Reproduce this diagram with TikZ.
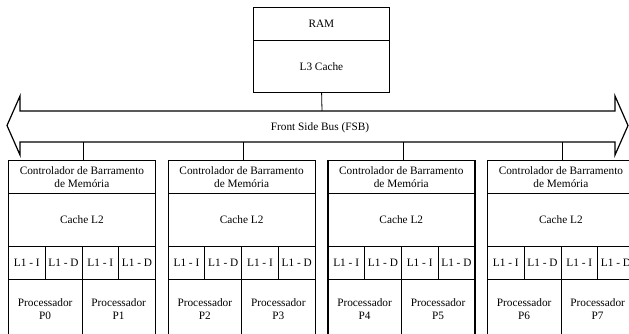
\documentclass[tikz,border=0pt]{standalone}
\usepackage{fontspec}
\setmainfont{Liberation Serif}
\begin{document}
\begin{tikzpicture}[x=1pt,y=-1pt,
  every node/.style={font=\fontsize{11.3}{13.5}\selectfont, inner sep=0pt, align=center},
  cell/.style={draw, line width=0.8pt, rectangle, anchor=north west},
  outer/.style={draw, line width=1.2pt, rectangle, anchor=north west},
  link/.style={line width=0.8pt}]
\clip (0,0) rectangle (629,333);

% memory block
\node[cell, minimum width=136, minimum height=33] (ram) at (253,7) {RAM};
\node[cell, minimum width=136, minimum height=52] (l3) at (253,40) {L3 Cache};
\node[outer, minimum width=136, minimum height=85] (mem) at (253,7) {};

% front side bus: double-headed block arrow
\coordinate (bustop) at (322,111);
\coordinate (busbot) at (322,142);
\draw[line width=1.2pt, line join=miter]
  (7,125.5) -- (20,96) -- (20,111) -- (615,111) -- (615,96) -- (628,125.5)
  -- (615,155) -- (615,142) -- (20,142) -- (20,155) -- cycle;
\node (fsb) at (320,127.5) {Front Side Bus (FSB)};
\draw[link] (mem.south) -- (bustop);

% four processor modules
\foreach \i/\x in {0/8,1/167.7,2/327.4,3/487} {
  \node[cell, minimum width=147, minimum height=33] (ctl\i) at (\x,160)
    {Controlador de Barramento\\de Memória};
  \node[cell, minimum width=147, minimum height=53] (ltwo\i) at (\x,193) {Cache L2};
  \node[cell, minimum width=36.75, minimum height=33] (lia\i) at (\x,246) {L1 - I};
  \node[cell, minimum width=36.75, minimum height=33] (lda\i) at (\x+36.75,246) {L1 - D};
  \node[cell, minimum width=36.75, minimum height=33] (lib\i) at (\x+73.5,246) {L1 - I};
  \node[cell, minimum width=36.75, minimum height=33] (ldb\i) at (\x+110.25,246) {L1 - D};
  \pgfmathtruncatemacro{\pa}{2*\i}
  \pgfmathtruncatemacro{\pb}{2*\i+1}
  \node[cell, minimum width=73.5, minimum height=59] (pa\i) at (\x,279) {Processador\\P\pa};
  \node[cell, minimum width=73.5, minimum height=59] (pb\i) at (\x+73.5,279) {Processador\\P\pb};
  \node[outer, minimum width=147, minimum height=185] (box\i) at (\x,160) {};
  \draw[link] ([xshift=1.5pt]box\i.north) -- ([xshift=1.5pt]box\i.north |- busbot);
}
\end{tikzpicture}
\end{document}
